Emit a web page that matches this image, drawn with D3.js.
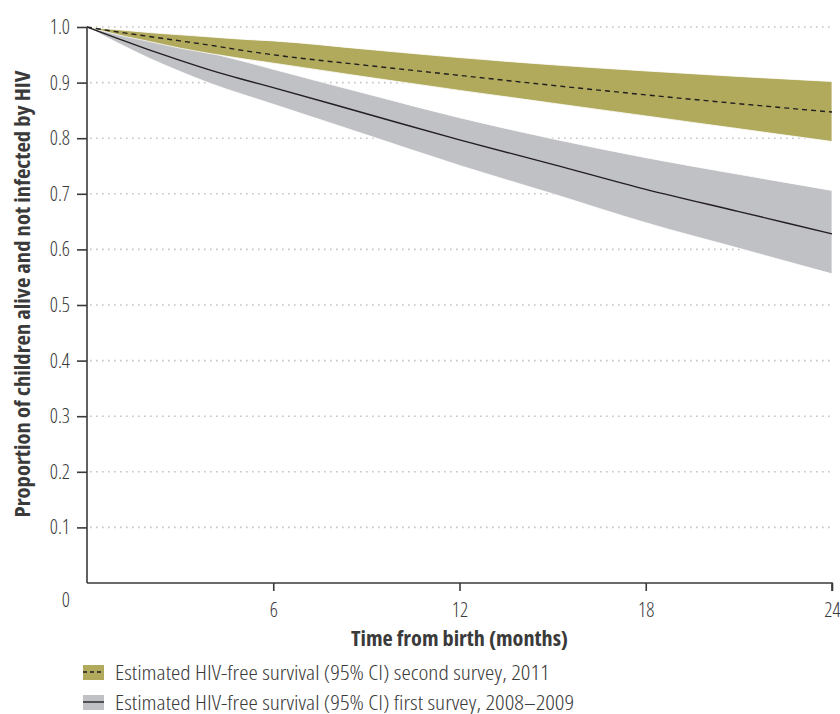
<!DOCTYPE html>
<html>
<head>
<meta charset="utf-8">
<script src="https://cdn.jsdelivr.net/npm/d3@7"></script>
<style>
  body { margin: 0; background: #fff; }
  svg text { font-family: "Open Sans", "DejaVu Sans Condensed", sans-serif; font-stretch: condensed; fill: #3a3a3a; }
</style>
</head>
<body>
<svg id="chart" width="840" height="714"></svg>
<script>
// months from birth
const months = [0, 1, 2, 3, 4, 5, 6, 9, 12, 15, 18, 21, 24];

// second survey, 2011
const est2011 = [1.0, 0.991, 0.983, 0.975, 0.967, 0.958, 0.950, 0.931, 0.913, 0.895, 0.878, 0.862, 0.847];
const upper2011 = [1.0, 0.995, 0.990, 0.986, 0.982, 0.978, 0.975, 0.960, 0.945, 0.932, 0.921, 0.911, 0.902];
const lower2011 = [1.0, 0.986, 0.974, 0.962, 0.952, 0.943, 0.935, 0.910, 0.886, 0.863, 0.840, 0.817, 0.794];

// first survey, 2008-2009
const est2008 = [1.0, 0.979, 0.959, 0.940, 0.922, 0.906, 0.891, 0.844, 0.797, 0.753, 0.708, 0.668, 0.628];
const upper2008 = [1.0, 0.991, 0.979, 0.966, 0.953, 0.939, 0.924, 0.880, 0.837, 0.799, 0.765, 0.735, 0.706];
const lower2008 = [1.0, 0.971, 0.944, 0.920, 0.898, 0.879, 0.861, 0.806, 0.751, 0.700, 0.648, 0.602, 0.556];

const xTicks = [6, 12, 18, 24];
const yTicks = [0.1, 0.2, 0.3, 0.4, 0.5, 0.6, 0.7, 0.8, 0.9, 1.0];

const legendItems = [
  { label: "Estimated HIV-free survival (95% CI) second survey, 2011", fill: "#b1aa5d", dash: "4,3" },
  { label: "Estimated HIV-free survival (95% CI) first survey, 2008\u20132009", fill: "#c0c1c5", dash: null }
];

const svg = d3.select("svg#chart");
const plotLeft = 87, plotRight = 832, plotTop = 27, plotBottom = 583;

const xScale = d3.scaleLinear().domain([0, 24]).range([plotLeft, plotRight]);
const yScale = d3.scaleLinear().domain([0, 1]).range([plotBottom, plotTop]);

// dotted grid
svg.append("g")
  .selectAll("line")
  .data(yTicks)
  .enter()
  .append("line")
  .attr("x1", plotLeft + 3)
  .attr("x2", plotRight)
  .attr("y1", (d) => yScale(d))
  .attr("y2", (d) => yScale(d))
  .attr("stroke", "#c4c4c4")
  .attr("stroke-width", 1.6)
  .attr("stroke-dasharray", "1.6,4.4");

function band(upper, lower) {
  return d3.area()
    .curve(d3.curveMonotoneX)
    .x((d, i) => xScale(months[i]))
    .y0((d, i) => yScale(lower[i]))
    .y1((d, i) => yScale(upper[i]))(months);
}
function line(vals) {
  return d3.line()
    .curve(d3.curveMonotoneX)
    .x((d, i) => xScale(months[i]))
    .y((d, i) => yScale(vals[i]))(months);
}

svg.append("path")
  .attr("d", band(upper2008, lower2008))
  .attr("fill", legendItems[1].fill)
  .attr("stroke", "#fff")
  .attr("stroke-width", 0.8);

svg.append("path")
  .attr("d", band(upper2011, lower2011))
  .attr("fill", legendItems[0].fill)
  .attr("stroke", "#fff")
  .attr("stroke-width", 0.8);

svg.append("path")
  .attr("d", line(est2008))
  .attr("fill", "none")
  .attr("stroke", "#231f20")
  .attr("stroke-width", 1.4);

svg.append("path")
  .attr("d", line(est2011))
  .attr("fill", "none")
  .attr("stroke", "#231f20")
  .attr("stroke-width", 1.4)
  .attr("stroke-dasharray", "5,4");

// y axis
const yAxis = svg.append("g")
  .attr("transform", `translate(${plotLeft},0)`)
  .call(d3.axisLeft(yScale).tickValues(yTicks).tickFormat(d3.format(".1f")).tickSize(10).tickPadding(7));
yAxis.select(".domain").attr("d", `M0,${plotTop}V${plotBottom}`).attr("stroke", "#3a3a3a").attr("stroke-width", 1.6);
yAxis.selectAll(".tick line").attr("stroke", "#3a3a3a").attr("stroke-width", 1.6);
yAxis.selectAll(".tick text")
  .style("font-size", "20px")
  .style("font-weight", "300")
  .attr("fill", "#3a3a3a");

// x axis
const xAxis = svg.append("g")
  .attr("transform", `translate(0,${plotBottom})`)
  .call(d3.axisBottom(xScale).tickValues(xTicks).tickSize(8).tickPadding(12));
xAxis.select(".domain").attr("d", `M${plotLeft},0H${plotRight}V8`).attr("stroke", "#3a3a3a").attr("stroke-width", 1.6);
xAxis.selectAll(".tick line").attr("stroke", "#3a3a3a").attr("stroke-width", 1.6);
xAxis.selectAll(".tick text")
  .style("font-size", "20px")
  .style("font-weight", "300")
  .attr("fill", "#3a3a3a");

// origin label
svg.append("text")
  .attr("x", 70)
  .attr("y", 607)
  .attr("text-anchor", "end")
  .style("font-size", "20px")
  .style("font-weight", "300")
  .text("0");

// axis titles
svg.append("text")
  .attr("transform", `translate(${xScale(12)},646) scale(1.06,1)`)
  .attr("text-anchor", "middle")
  .style("font-size", "21px")
  .style("font-weight", "bold")
  .attr("fill", "#231f20")
  .text("Time from birth (months)");

svg.append("text")
  .attr("transform", "translate(30,294) rotate(-90) scale(1.08,1)")
  .attr("text-anchor", "middle")
  .style("font-size", "21px")
  .style("font-weight", "bold")
  .attr("fill", "#231f20")
  .text("Proportion of children alive and not infected by HIV");

// legend
const legend = svg.append("g");
legendItems.forEach((item, i) => {
  const y = 672 + i * 30;
  legend.append("rect")
    .attr("x", 83)
    .attr("y", y - 7)
    .attr("width", 21)
    .attr("height", 15)
    .attr("fill", item.fill);
  legend.append("line")
    .attr("x1", 83)
    .attr("x2", 104)
    .attr("y1", y)
    .attr("y2", y)
    .attr("stroke", "#231f20")
    .attr("stroke-width", 1.4)
    .attr("stroke-dasharray", item.dash);
  legend.append("text")
    .attr("transform", `translate(115,${y + 8}) scale(1.18,1)`)
    .style("font-size", "20px")
    .style("font-weight", "300")
    .text(item.label);
});
</script>
</body>
</html>
